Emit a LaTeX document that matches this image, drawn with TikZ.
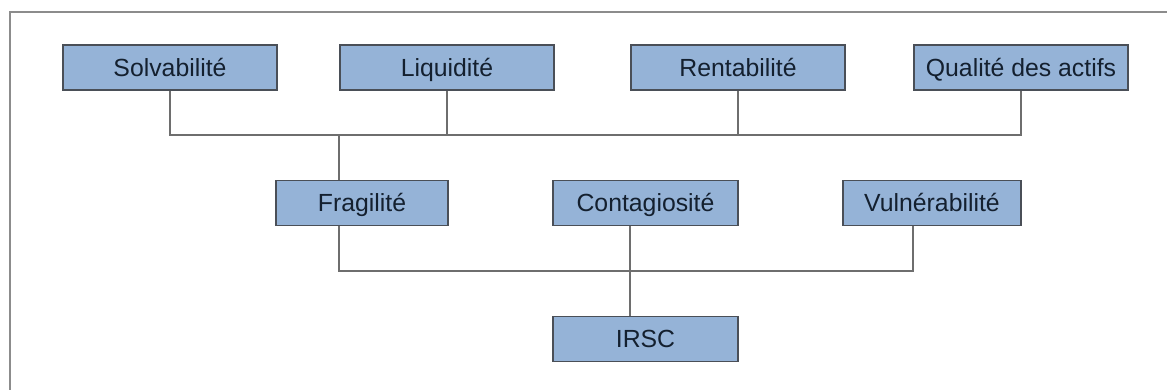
\documentclass[tikz,border=0pt]{standalone}
\usepackage{fontspec}
\setmainfont{Liberation Sans}
\usetikzlibrary{positioning}
\definecolor{boxblue}{HTML}{95B3D7}
\definecolor{boxedge}{HTML}{4A4F57}
\definecolor{inkblue}{HTML}{14202F}
\definecolor{linkgray}{HTML}{6E6E6E}
\definecolor{framegray}{HTML}{8C8C8C}

\begin{document}
\begin{tikzpicture}[
  x=0.5pt, y=-0.5pt,
  font=\fontsize{12.4}{14}\selectfont,
  crit/.style={
    draw=boxedge, fill=boxblue, text=inkblue, line width=0.9pt,
    inner sep=0pt, minimum height=22.5pt, text height=8.9pt, text depth=0pt
  },
  topcrit/.style={crit, minimum width=107pt},
  link/.style={draw=linkgray, line width=0.9pt},
  frame/.style={draw=framegray, line width=1.2pt},
]
\useasboundingbox (0,0) rectangle (1167,390);
\draw[frame] (10,390) -- (10,12) -- (1167,12);

% top row
\node[topcrit] (sol)  at (170,67.5)  {Solvabilité};
\node[topcrit] (liq)  at (447,67.5)  {Liquidité};
\node[topcrit] (rent) at (738,67.5)  {Rentabilité};
\node[topcrit] (qual) at (1021,67.5) {Qualité des actifs};

% middle row
\node[crit, minimum width=86pt]   (frag) at (362,203)   {Fragilité};
\node[crit, minimum width=92.5pt] (cont) at (645.5,203) {Contagiosité};
\node[crit, minimum width=89pt]   (vuln) at (932,203)   {Vulnérabilité};

% bottom
\node[crit, minimum width=92.5pt] (irsc) at (645.5,339) {IRSC};

\coordinate (bus1) at (0,135);
\coordinate (bus2) at (0,271);

\draw[link] (sol.south) |- (bus1 -| qual.south) -- (qual.south);
\draw[link] (liq.south) -- (liq.south |- bus1);
\draw[link] (rent.south) -- (rent.south |- bus1);
\draw[link] (bus1 -| liq.west) -- (frag.north -| liq.west);

\draw[link] (frag.south -| liq.west) |- (bus2 -| qual.west) -- (vuln.south -| qual.west);
\draw[link] (cont.south -| rent.west) -- (irsc.north -| rent.west);

\end{tikzpicture}
\end{document}
